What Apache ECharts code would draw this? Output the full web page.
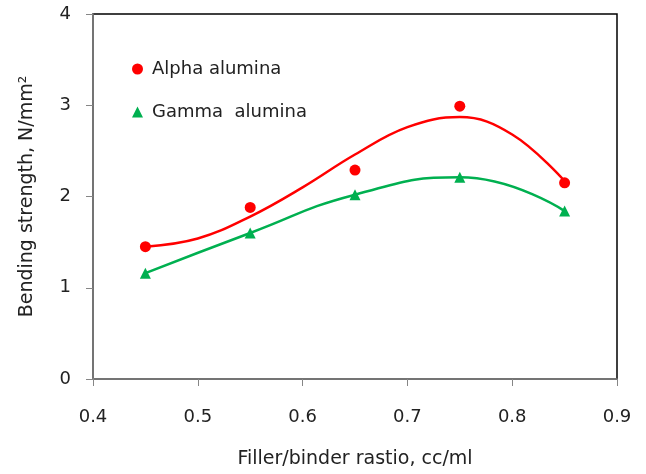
<!DOCTYPE html>
<html>
<head>
<meta charset="utf-8">
<script src="https://cdn.jsdelivr.net/npm/echarts@6/dist/echarts.min.js"></script>
<style>
  html, body { margin: 0; padding: 0; background: #fff; }
  #chart { width: 646px; height: 474px; }
</style>
</head>
<body>
<div id="chart"></div>
<script>
// measured points
const ratios = [0.45, 0.55, 0.65, 0.75, 0.85]
const alphaValues = [1.45, 1.88, 2.29, 2.99, 2.15]
const gammaValues = [1.16, 1.60, 2.02, 2.21, 1.84]
// alpha trend line
const alphaTrendX = [0.45, 0.5, 0.55, 0.6, 0.65, 0.7, 0.75, 0.8, 0.85]
const alphaTrendY = [1.45, 1.54, 1.78, 2.10, 2.46, 2.76, 2.87, 2.68, 2.17]
const yTicks = [0, 1, 2, 3, 4]

const font = 'DejaVu Sans'
const textColor = '#222'
const axisGray = '#868686'

const pairs = (xs, ys) => xs.map((x, i) => [x, ys[i]])

const chart = echarts.init(document.getElementById('chart'))
chart.setOption({
  animation: false,
  textStyle: { fontFamily: font },
  grid: {
    left: 93,
    right: 29,
    top: 14,
    bottom: 92,
    show: true,
    borderColor: '#000',
    borderWidth: 1.5
  },
  legend: {
    orient: 'vertical',
    left: 132,
    top: 60,
    padding: 0,
    itemGap: 25,
    itemWidth: 11,
    itemHeight: 11,
    itemStyle: { borderWidth: 0, opacity: 1 },
    textStyle: { fontSize: 18, color: textColor, fontFamily: font, padding: [0, 0, 0, 4] },
    data: [
      { name: 'Alpha alumina', icon: 'circle' },
      { name: 'Gamma  alumina', icon: 'triangle' }
    ]
  },
  xAxis: {
    type: 'value',
    min: 0.4,
    max: 0.9,
    interval: 0.1,
    name: 'Filler/binder rastio, cc/ml',
    nameLocation: 'middle',
    nameGap: 71,
    nameTextStyle: { fontSize: 19, color: textColor },
    axisLine: { show: true, lineStyle: { color: axisGray, width: 1.5 } },
    axisTick: { show: true, inside: false, length: 7, lineStyle: { color: axisGray } },
    axisLabel: {
      margin: 29,
      fontSize: 18,
      color: textColor,
      formatter: v => v.toFixed(1)
    },
    splitLine: { show: false }
  },
  yAxis: {
    type: 'value',
    min: yTicks[0],
    max: yTicks[yTicks.length - 1],
    interval: 1,
    name: 'Bending strength, N/mm\u00b2',
    nameLocation: 'middle',
    nameGap: 56,
    nameTextStyle: { fontSize: 19, color: textColor },
    axisLine: { show: true, lineStyle: { color: axisGray, width: 1.5 } },
    axisTick: { show: true, inside: false, length: 7, lineStyle: { color: axisGray } },
    axisLabel: { margin: 22, fontSize: 18, color: textColor },
    splitLine: { show: false }
  },
  series: [
    {
      name: 'Alpha trend',
      type: 'line',
      smooth: 0.4,
      showSymbol: false,
      silent: true,
      lineStyle: { color: '#ff0000', width: 2.5 },
      data: pairs(alphaTrendX, alphaTrendY),
      z: 2
    },
    {
      name: 'Alpha alumina',
      type: 'scatter',
      symbol: 'circle',
      symbolSize: 11,
      itemStyle: { color: '#ff0000', opacity: 1 },
      data: pairs(ratios, alphaValues),
      z: 3
    },
    {
      name: 'Gamma  alumina',
      type: 'line',
      smooth: 0.5,
      symbol: 'triangle',
      symbolSize: 11,
      showAllSymbol: true,
      lineStyle: { color: '#00b050', width: 2.5 },
      itemStyle: { color: '#00b050' },
      data: pairs(ratios, gammaValues),
      z: 3
    }
  ]
})
</script>
</body>
</html>
